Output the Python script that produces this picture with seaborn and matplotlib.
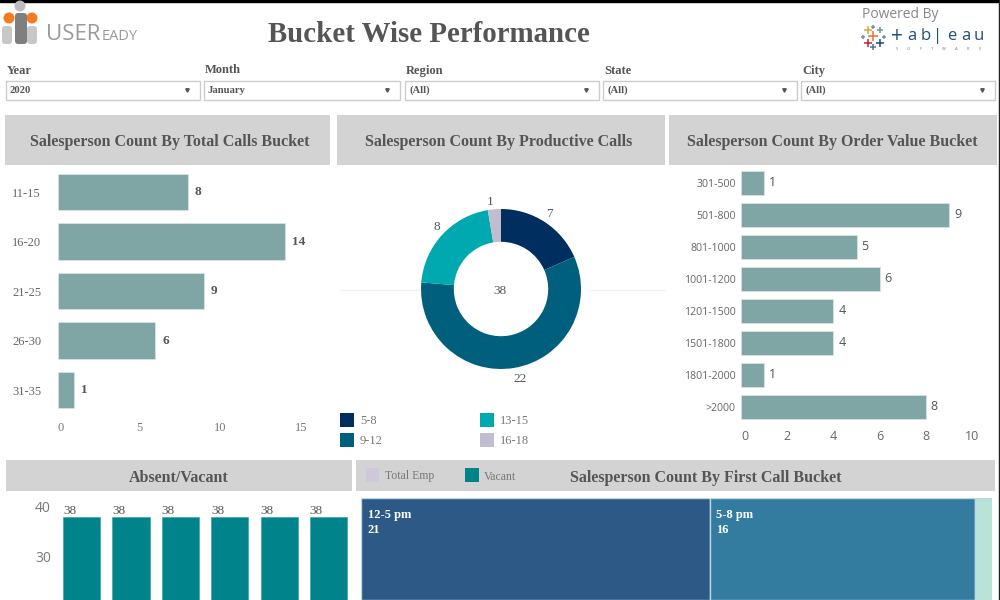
import numpy as np
import pandas as pd
import seaborn as sns
import matplotlib.pyplot as plt
from matplotlib.patches import Rectangle, Circle, FancyBboxPatch

calls_buckets = ['11-15', '16-20', '21-25', '26-30', '31-35']
calls_counts = [8, 14, 9, 6, 1]
order_buckets = ['301-500', '501-800', '801-1000', '1001-1200', '1201-1500', '1501-1800', '1801-2000', '>2000']
order_counts = [1, 9, 5, 6, 4, 4, 1, 8]
prod_buckets = ['5-8', '9-12', '13-15', '16-18']
prod_counts = [7, 22, 8, 1]
prod_total = 38
absent_slots = ['a', 'b', 'c', 'd', 'e', 'f']
absent_vacant = [38, 38, 38, 38, 38, 38]
first_buckets = ['12-5 pm', '5-8 pm', '']
first_counts = [21, 16, 1]
filter_names = ['Year', 'Month', 'Region', 'State', 'City']
filter_values = ['2020', 'January', '(All)', '(All)', '(All)']

SERIF = 'Liberation Serif'
SANS = 'Open Sans'
GREY = '#555555'
BAR = '#80A5A5'
BAR_EDGE = '#D5E3E3'
TEAL = '#00838A'
PANEL = '#D3D3D3'
PIE_COLS = ['#002E5F', '#005F7D', '#00A9B0', '#C0BDD0']
TREE_COLS = ['#2C5985', '#337B9F', '#B9E3D6']

sns.set_theme(style='white')
plt.rcParams['font.family'] = [SERIF, 'DejaVu Sans']
fig = plt.figure(figsize=(10, 6), dpi=100)


def px_axes(x0, y0, x1, y1):
    return fig.add_axes([x0 / 1000, 1 - y1 / 600, (x1 - x0) / 1000, (y1 - y0) / 600])


# background layer in pixel coordinates, for panels and header
bg = fig.add_axes([0, 0, 1, 1], zorder=0)
bg.set_xlim(0, 1000)
bg.set_ylim(600, 0)
bg.axis('off')
bg.add_patch(Rectangle((0, 0), 1000, 1.5, color='black'))
bg.add_patch(Rectangle((998.5, 0), 1.5, 600, color='#222222'))

for x0, y0, x1, y1 in [(5, 115, 330, 165), (337, 115, 665, 165), (669, 115, 997, 165),
                       (6, 460, 352, 491), (356, 460, 995, 491)]:
    bg.add_patch(Rectangle((x0, y0), x1 - x0, y1 - y0, color=PANEL, lw=0))

bg.text(429, 34.5, 'Bucket Wise Performance', ha='center', va='center', fontsize=20.8, fontweight='bold', color=GREY)
bg.text(170, 142, 'Salesperson Count By Total Calls Bucket', ha='center', va='center', fontsize=11.5, fontweight='bold', color=GREY)
bg.text(499, 142, 'Salesperson Count By Productive Calls', ha='center', va='center', fontsize=11.5, fontweight='bold', color=GREY)
bg.text(832, 142, 'Salesperson Count By Order Value Bucket', ha='center', va='center', fontsize=11.5, fontweight='bold', color=GREY)
bg.text(179, 477.5, 'Absent/Vacant', ha='center', va='center', fontsize=11.5, fontweight='bold', color=GREY)
bg.text(706, 477.5, 'Salesperson Count By First Call Bucket', ha='center', va='center', fontsize=11.5, fontweight='bold', color=GREY)

# filters
filter_x = [(6, 200), (204, 400), (405, 599), (603, 797), (801, 995)]
filter_label_y = [71, 70, 71, 71, 71]
for name, val, (x0, x1), ly in zip(filter_names, filter_values, filter_x, filter_label_y):
    bg.text(x0 + 1, ly, name, ha='left', va='center', fontsize=9, fontweight='bold', color=GREY)
    bg.add_patch(Rectangle((x0, 81), x1 - x0, 19, fc='white', ec='#CCCCCC', lw=1))
    bg.text(x0 + 4, 90.5, val, ha='left', va='center', fontsize=7.7, fontweight='bold', color=GREY)
    bg.plot([x1 - 13], [90], marker='v', ms=2.5, color='#555555')

# userready logo
bg.add_patch(Circle((20, 6), 5.5, color='#BDBDBD', lw=0))
bg.add_patch(Circle((9, 18), 5.5, color='#F47B20', lw=0))
bg.add_patch(Circle((32, 18), 5.5, color='#F47B20', lw=0))
for x, w, y0, c in [(2, 10, 26, '#C8C8C8'), (15, 12, 13, '#7F7F7F'), (27, 10, 26, '#C8C8C8')]:
    bg.add_patch(FancyBboxPatch((x + 3, y0 + 3), w - 6, 44 - y0 - 6, boxstyle='round,pad=3', color=c, lw=0))
bg.text(46, 35, 'USER', ha='left', va='center', fontsize=16, color='#9A9A9A', family=SANS)
bg.text(102, 36.5, 'EADY', ha='left', va='center', fontsize=10.5, color='#9A9A9A', family=SANS)

# tableau logo
bg.text(862, 15, 'Powered By', ha='left', va='center', fontsize=10, color='#888888', family=SANS)
plus_x = [868, 873, 880, 873, 863, 884, 868, 873, 880]
plus_y = [30, 27, 30, 36, 37, 37, 43, 47, 43]
plus_s = [6, 3.5, 4, 7, 3.5, 3.5, 6, 4, 6]
plus_c = ['#E8A33D', '#7099A6', '#7099A6', '#E8762B', '#7099A6', '#7099A6', '#C72035', '#5B6FA0', '#1F4E79']
for x, y, s, c in zip(plus_x, plus_y, plus_s, plus_c):
    bg.plot([x], [y], marker='+', ms=s, mew=1.1, color=c)
for ch, x, s in zip('+ab|eau', [897, 912, 926, 938, 952, 966, 979], [15, 12, 12, 12, 12, 12, 12]):
    bg.text(x, 36, ch, ha='center', va='center', fontsize=s, color='#1F4E79', family=SANS)
for i, ch in enumerate('SOFTWARE'):
    bg.text(897 + i * 11.8, 48.5, ch, ha='center', va='center', fontsize=3, color='#6A7F95', family=SANS)

# total calls bars
ax1 = px_axes(58, 167.25, 317, 414.75)
df1 = pd.DataFrame({'bucket': calls_buckets, 'count': calls_counts})
sns.barplot(data=df1, x='count', y='bucket', orient='h', color=BAR, saturation=1, width=0.74,
            edgecolor=BAR_EDGE, linewidth=0.6, ax=ax1)
ax1.bar_label(ax1.containers[0], padding=5, fontsize=9.5, fontweight='bold', color=GREY)
ax1.set_xlim(0, 16)
ax1.set_xticks([0, 5, 10, 15])
ax1.set_xlabel('')
ax1.set_ylabel('')
ax1.tick_params(axis='x', length=0, labelsize=9, labelcolor='#777777', pad=5)
ax1.tick_params(axis='y', length=0, labelsize=9, labelcolor='#666666', pad=33)
ax1.set_yticks(range(len(calls_buckets)), calls_buckets, ha='left')
ax1.set_xticklabels(['0', '5', '10', '15'])
ax1.get_xticklabels()[0].set_ha('left')
sns.despine(ax=ax1, left=True, bottom=True)
ax1.patch.set_alpha(0)

# productive calls donut
bg.plot([340, 420], [290, 290], color='#F2F2F2', lw=1)
bg.plot([590, 665], [290, 290], color='#F2F2F2', lw=1)
ax2 = px_axes(421, 209, 581, 369)
ax2.pie(prod_counts, colors=PIE_COLS, startangle=90, counterclock=False, radius=1,
        wedgeprops={'width': 0.41, 'linewidth': 0})
ax2.set_xlim(-1, 1)
ax2.set_ylim(-1, 1)
for val, (x, y) in zip(prod_counts, [(549, 214), (520, 379), (437, 227), (490, 202)]):
    bg.text(x, y, str(val), ha='center', va='center', fontsize=9.5, color=GREY)
bg.text(500, 291, str(prod_total), ha='center', va='center', fontsize=9.5, color=GREY)
for lab, col, (x, y) in zip(prod_buckets, PIE_COLS, [(340, 413), (340, 433), (480, 413), (480, 433)]):
    bg.add_patch(Rectangle((x, y), 14, 14, color=col, lw=0))
    bg.text(x + 20, y + 7.5, lab, ha='left', va='center', fontsize=9, color='#777777')

# order value bars
ax3 = px_axes(741, 167, 983, 423)
df3 = pd.DataFrame({'bucket': order_buckets, 'count': order_counts})
sns.barplot(data=df3, x='count', y='bucket', orient='h', color=BAR, saturation=1, width=0.75,
            edgecolor=BAR_EDGE, linewidth=0.6, ax=ax3)
ax3.bar_label(ax3.containers[0], padding=3.5, fontsize=9, color=GREY, family=SANS)
ax3.set_xlim(0, 10.47)
ax3.set_xticks([0, 2, 4, 6, 8, 10])
ax3.set_xticklabels(['0', '2', '4', '6', '8', '10'], family=SANS)
ax3.get_xticklabels()[0].set_ha('left')
ax3.set_xlabel('')
ax3.set_ylabel('')
ax3.tick_params(axis='x', length=0, labelsize=9, labelcolor='#666666', pad=5)
ax3.tick_params(axis='y', length=0, labelsize=7.6, labelcolor='#666666', pad=3.6)
for lab in ax3.get_yticklabels():
    lab.set_family(SANS)
sns.despine(ax=ax3, left=True, bottom=True)
ax3.patch.set_alpha(0)

# absent / vacant bars, cut off by the bottom edge
ax4 = px_axes(57, 497, 353, 600)
df4 = pd.DataFrame({'slot': absent_slots, 'vacant': absent_vacant})
sns.barplot(data=df4, x='slot', y='vacant', color=TEAL, saturation=1, width=0.75,
            edgecolor='#3FA5A8', linewidth=0.5, ax=ax4)
for rect, val in zip(ax4.containers[0], absent_vacant):
    ax4.annotate(str(val), (rect.get_x(), val), xytext=(0, 0), textcoords='offset pixels',
                 ha='left', va='bottom', fontsize=9.5, color=GREY)
ax4.set_ylim(21.4, 42)
ax4.set_yticks([30, 40])
ax4.set_yticklabels(['30', '40'], family=SANS)
ax4.set_xticks([])
ax4.set_xlabel('')
ax4.set_ylabel('')
ax4.tick_params(axis='y', length=0, labelsize=10, labelcolor='#777777', pad=4.5)
sns.despine(ax=ax4, left=True, bottom=True)
ax4.patch.set_alpha(0)

# legend on the first call header
bg.add_patch(Rectangle((366, 468), 13, 14, color='#CFC8DA', lw=0))
bg.text(385, 476.5, 'Total Emp', ha='left', va='center', fontsize=8.5, color='#777777')
bg.add_patch(Rectangle((465, 468), 14, 14, color=TEAL, lw=0))
bg.text(484, 476.5, 'Vacant', ha='left', va='center', fontsize=8.5, color='#777777')

# first call treemap strip
ax5 = px_axes(361, 498, 992, 600)
lefts = np.cumsum([0] + first_counts[:-1])
ax5.barh([0] * len(first_counts), first_counts, left=lefts, height=1, color=TREE_COLS, edgecolor='#BFD6E4', linewidth=1)
ax5.set_xlim(0, sum(first_counts))
ax5.set_ylim(-0.5, 0.5)
ax5.axis('off')
for lab, val, left in zip(first_buckets, first_counts, lefts):
    if lab:
        ax5.annotate(f'{lab}\n{val}', (left, 0.5), xytext=(6.5, -11), textcoords='offset pixels', va='top', ha='left',
                     fontsize=9, fontweight='bold', color='white', linespacing=1.3)

fig.savefig('out.png', dpi=100)
